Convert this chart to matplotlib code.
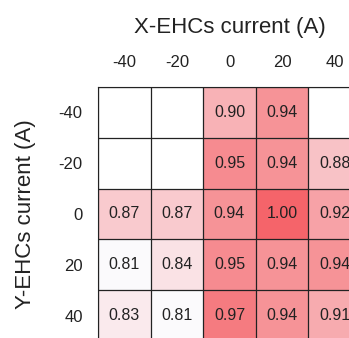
import numpy as np
import matplotlib.pyplot as plt
from matplotlib.colors import LinearSegmentedColormap

plt.rcParams['font.family'] = ['Liberation Sans', 'DejaVu Sans']

x_currents = ['-40', '-20', '0', '20', '40']
y_currents = ['-40', '-20', '0', '20', '40']
nan = np.nan
# rows are Y current, columns are X current; nan = not measured
row_m40 = [nan, nan, 0.90, 0.94, nan]
row_m20 = [nan, nan, 0.95, 0.94, 0.88]
row_0 = [0.87, 0.87, 0.94, 1.00, 0.92]
row_20 = [0.81, 0.84, 0.95, 0.94, 0.94]
row_40 = [0.83, 0.81, 0.97, 0.94, 0.91]
values = np.array([row_m40, row_m20, row_0, row_20, row_40])

cmap = LinearSegmentedColormap.from_list('wr', ['#fbfafc', '#f5646a'])
cmap.set_bad('white')

fig = plt.figure(figsize=(3.49, 3.38), dpi=100)
# axes deliberately runs past the right and bottom edge, like the source crop
ax = fig.add_axes([98 / 349, 1 - 341 / 338, 263 / 349, 254 / 338])
ax.imshow(np.ma.masked_invalid(values), cmap=cmap, vmin=0.81, vmax=1.00,
          aspect='auto', interpolation='nearest')

for i in range(values.shape[0]):
    for j in range(values.shape[1]):
        if not np.isnan(values[i, j]):
            ax.text(j, i, '%.2f' % values[i, j], ha='center', va='center',
                    fontsize=11.5, color='#222222')

ax.set_xticks(range(len(x_currents)))
ax.set_xticklabels(x_currents)
ax.set_yticks(range(len(y_currents)))
ax.set_yticklabels(y_currents)
ax.xaxis.tick_top()
ax.xaxis.set_label_position('top')
ax.tick_params(length=0, labelsize=12, colors='#222222')
ax.tick_params(axis='x', pad=12.5)
ax.tick_params(axis='y', pad=11)

ax.set_xticks(np.arange(-0.5, len(x_currents), 1), minor=True)
ax.set_yticks(np.arange(-0.5, len(y_currents), 1), minor=True)
ax.grid(which='minor', color='#222222', linewidth=0.9)
ax.tick_params(which='minor', length=0)
for s in ax.spines.values():
    s.set_color('#222222')

ax.set_xlabel('X-EHCs current (A)', fontsize=16, labelpad=15.5, color='#222222')
ax.set_ylabel('Y-EHCs current (A)', fontsize=16, labelpad=16, color='#222222')

fig.savefig('out.png', dpi=100)
